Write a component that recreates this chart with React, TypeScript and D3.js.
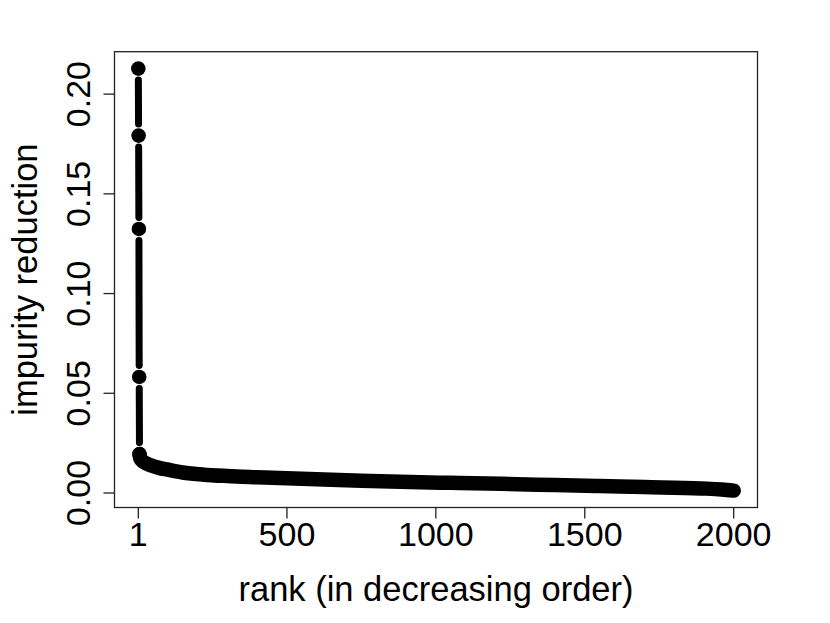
import React from "react";
import * as d3 from "d3";

// Head of the ranking (individual dots joined by gapped segments)
const headRanks = [1, 2, 3, 4, 5];
const headValues = [0.2128, 0.1792, 0.1324, 0.0582, 0.0195];

// Tail of the ranking, read along the dense band of overlapping dots
const tailRanks = [5, 7, 10, 15, 25, 40, 70, 100, 150, 220, 300, 400, 550, 700, 880, 1050, 1220, 1400, 1550, 1700, 1890, 1960, 2000];
const tailValues = [0.0195, 0.0178, 0.0168, 0.016, 0.015, 0.014, 0.0126, 0.0117, 0.0103, 0.0092, 0.0085, 0.0079, 0.0071, 0.0064, 0.0056, 0.0051, 0.0046, 0.004, 0.0035, 0.003, 0.0023, 0.0018, 0.0012];

const xTicks = [1, 500, 1000, 1500, 2000];
const yTicks = [0, 0.05, 0.1, 0.15, 0.2];

const xTitle = "rank (in decreasing order)";
const yTitle = "impurity reduction";

export default function App() {
  const W = 830, H = 623;
  const left = 114.5, right = 757.5, top = 51.7, bottom = 507.5;
  const font = "'Liberation Sans', Arial, Helvetica, sans-serif";
  const fs = 34;
  const tfs = 34.5;

  const xMin = 1, xMax = 2000;
  const xPad = (xMax - xMin) * 0.04;
  const allY = headValues.concat(tailValues);
  const yLo = d3.min(allY)!, yHi = d3.max(allY)!;
  const yPad = (yHi - yLo) * 0.04;

  const x = d3.scaleLinear().domain([xMin - xPad, xMax + xPad]).range([left, right]);
  const y = d3.scaleLinear().domain([yLo - yPad, yHi + yPad]).range([bottom, top]);

  const tailLine = d3.line<number>()
    .x((_, i) => x(tailRanks[i]))
    .y((v) => y(v))
    .curve(d3.curveMonotoneX)(tailValues) || "";

  const r = 7.3;
  const gap = 11.5;
  const segs: { x1: number; y1: number; x2: number; y2: number }[] = [];
  for (let i = 0; i < headRanks.length - 1; i++) {
    const ax = x(headRanks[i]), ay = y(headValues[i]);
    const bx = x(headRanks[i + 1]), by = y(headValues[i + 1]);
    const len = Math.hypot(bx - ax, by - ay);
    if (len > 2 * gap) {
      const ux = (bx - ax) / len, uy = (by - ay) / len;
      segs.push({ x1: ax + ux * gap, y1: ay + uy * gap, x2: bx - ux * gap, y2: by - uy * gap });
    }
  }

  const axisColor = "#222";
  const tickLen = 11;

  return (
    <svg width={W} height={H} style={{ position: "absolute", left: 0, top: 0, background: "#fff" }}>
      <rect x={0} y={0} width={W} height={H} fill="#fff" />
      {/* data */}
      <path d={tailLine} fill="none" stroke="#000" strokeWidth={14.5} strokeLinecap="round" strokeLinejoin="round" />
      {segs.map((s, i) => (
        <line key={"s" + i} x1={s.x1} y1={s.y1} x2={s.x2} y2={s.y2} stroke="#000" strokeWidth={7} strokeLinecap="round" />
      ))}
      {headRanks.map((rk, i) => (
        <circle key={"c" + i} cx={x(rk)} cy={y(headValues[i])} r={r} fill="#000" />
      ))}
      {/* box */}
      <rect x={left} y={top} width={right - left} height={bottom - top} fill="none" stroke={axisColor} strokeWidth={1.3} />
      {/* x axis */}
      {xTicks.map((t) => (
        <g key={"xt" + t}>
          <line x1={x(t)} x2={x(t)} y1={bottom} y2={bottom + tickLen} stroke={axisColor} strokeWidth={1.3} />
          <text x={x(t)} y={546} textAnchor="middle" fontFamily={font} fontSize={fs} fill="#000">{t}</text>
        </g>
      ))}
      {/* y axis */}
      {yTicks.map((t) => (
        <g key={"yt" + t}>
          <line x1={left - tickLen} x2={left} y1={y(t)} y2={y(t)} stroke={axisColor} strokeWidth={1.3} />
          <text transform={`translate(90,${y(t)}) rotate(-90)`} textAnchor="middle" fontFamily={font} fontSize={fs} fill="#000">{d3.format(".2f")(t)}</text>
        </g>
      ))}
      <text x={(left + right) / 2} y={601} textAnchor="middle" fontFamily={font} fontSize={tfs} fill="#000">{xTitle}</text>
      <text transform={`translate(37,${(top + bottom) / 2}) rotate(-90)`} textAnchor="middle" fontFamily={font} fontSize={tfs} fill="#000">{yTitle}</text>
    </svg>
  );
}
